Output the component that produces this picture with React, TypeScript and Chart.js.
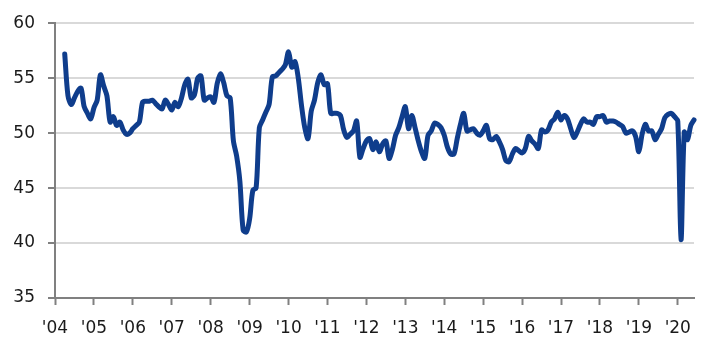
import React, { useEffect, useRef } from "react";
import { Chart, registerables } from "chart.js";

Chart.register(...registerables);

// Month index 0 = Jan 2004; series starts April 2004 (index 3)
const FIRST_MONTH_INDEX = 3;
const LAST_MONTH_INDEX = 197; // Jun 2020

const yearTickLabels = ["'04", "'05", "'06", "'07", "'08", "'09", "'10", "'11", "'12", "'13", "'14", "'15", "'16", "'17", "'18", "'19", "'20"];

const v2004 = [57.2, 53.4, 52.6, 53.2, 53.8, 54.1, 52.4, 51.8, 51.3];
const v2005 = [52.3, 53.0, 55.3, 54.3, 53.4, 51.0, 51.5, 50.7, 51.0, 50.3, 49.9, 50.0];
const v2006 = [50.4, 50.7, 51.0, 52.8, 52.9, 52.9, 53.0, 52.7, 52.4, 52.2, 53.0, 52.6];
const v2007 = [52.1, 52.8, 52.4, 53.2, 54.4, 54.9, 53.2, 53.5, 55.0, 55.2, 53.0, 53.2];
const v2008 = [53.3, 52.8, 54.5, 55.4, 54.6, 53.4, 53.2, 49.3, 47.9, 45.6, 41.2, 41.0];
const v2009 = [42.2, 44.8, 45.0, 50.5, 51.2, 51.9, 52.6, 55.1, 55.2, 55.5, 55.8, 56.2];
const v2010 = [57.4, 56.0, 56.5, 55.0, 52.5, 50.5, 49.5, 52.0, 53.0, 54.6, 55.3, 54.4];
const v2011 = [54.5, 51.8, 51.8, 51.8, 51.6, 50.3, 49.6, 49.9, 50.2, 51.1, 47.8, 48.6];
const v2012 = [49.3, 49.5, 48.5, 49.2, 48.3, 49.0, 49.3, 47.7, 48.5, 49.8, 50.5, 51.5];
const v2013 = [52.4, 50.4, 51.6, 50.5, 49.3, 48.3, 47.7, 49.8, 50.2, 50.9, 50.8, 50.5];
const v2014 = [49.8, 48.7, 48.1, 48.1, 49.5, 50.8, 51.8, 50.2, 50.3, 50.4, 50.0, 49.8];
const v2015 = [50.2, 50.7, 49.5, 49.4, 49.7, 49.2, 48.5, 47.5, 47.4, 48.1, 48.6, 48.4];
const v2016 = [48.2, 48.6, 49.7, 49.3, 49.0, 48.6, 50.3, 50.1, 50.3, 51.0, 51.3, 51.9];
const v2017 = [51.2, 51.6, 51.3, 50.4, 49.6, 50.1, 50.8, 51.3, 51.0, 51.0, 50.8, 51.5];
const v2018 = [51.5, 51.6, 51.0, 51.1, 51.1, 51.0, 50.8, 50.6, 50.0, 50.1, 50.2, 49.7];
const v2019 = [48.3, 49.9, 50.8, 50.2, 50.2, 49.4, 49.9, 50.4, 51.4, 51.7, 51.8, 51.5];
const v2020 = [51.1, 40.3, 50.1, 49.4, 50.7, 51.2];

const seriesValues = [
  ...v2004, ...v2005, ...v2006, ...v2007, ...v2008, ...v2009, ...v2010, ...v2011,
  ...v2012, ...v2013, ...v2014, ...v2015, ...v2016, ...v2017, ...v2018, ...v2019, ...v2020,
];

const FONT = { family: "'DejaVu Sans', Verdana, sans-serif", size: 17 };
const TEXT_COLOR = "#1a1a1a";
const AXIS_COLOR = "#808080";
const GRID_COLOR = "#d9d9d9";
const LINE_COLOR = "#0f3d8c";

export default function App() {
  const canvasRef = useRef<HTMLCanvasElement | null>(null);

  useEffect(() => {
    if (!canvasRef.current) return;
    const points = seriesValues.map((v, i) => ({ x: FIRST_MONTH_INDEX + i, y: v }));
    const chart = new Chart(canvasRef.current, {
      type: "line",
      data: {
        datasets: [
          {
            data: points,
            borderColor: LINE_COLOR,
            borderWidth: 5,
            pointRadius: 0,
            tension: 0.3,
            borderJoinStyle: "round",
            borderCapStyle: "round",
            fill: false,
            clip: false,
          },
        ],
      },
      options: {
        animation: false,
        responsive: true,
        maintainAspectRatio: false,
        layout: { padding: { top: 23, right: 33, left: 0, bottom: 0 } },
        plugins: { legend: { display: false }, tooltip: { enabled: false } },
        scales: {
          x: {
            type: "linear",
            min: 0,
            max: LAST_MONTH_INDEX,
            ticks: {
              stepSize: 12,
              includeBounds: false,
              autoSkip: false,
              maxRotation: 0,
              padding: 13,
              color: TEXT_COLOR,
              font: FONT,
              callback: (v: any) => yearTickLabels[Math.round(Number(v) / 12)] ?? "",
            },
            grid: {
              drawOnChartArea: false,
              drawTicks: true,
              tickLength: 7,
              tickColor: AXIS_COLOR,
              tickWidth: 2,
            },
            border: { display: true, color: AXIS_COLOR, width: 2 },
            afterFit: (s: any) => {
              s.height = 60;
            },
          },
          y: {
            min: 35,
            max: 60,
            ticks: {
              stepSize: 5,
              padding: 13,
              color: TEXT_COLOR,
              font: FONT,
            },
            grid: {
              color: GRID_COLOR,
              lineWidth: 2,
              tickLength: 7,
              tickColor: AXIS_COLOR,
              tickWidth: 2,
            },
            border: { display: true, color: AXIS_COLOR, width: 2 },
            afterFit: (s: any) => {
              s.width = 55;
            },
          },
        },
      },
    } as any);
    return () => chart.destroy();
  }, []);

  return (
    <div style={{ position: "fixed", left: 0, top: 0, width: 727, height: 358, background: "#fff" }}>
      <canvas ref={canvasRef} />
    </div>
  );
}
